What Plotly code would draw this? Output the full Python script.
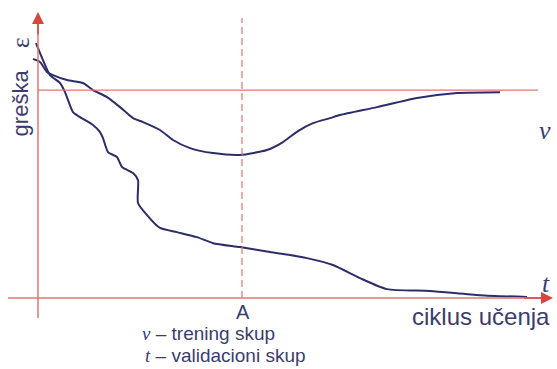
import plotly.graph_objects as go

# Learning cycles (x) and error (y) for the two curves
v_cycles = [-1.0, 0.4, 1.8, 3.0, 5.8, 9.0, 11.0, 13.8, 16.4, 19.0, 21.0, 24.4, 27.0,
            30.4, 35.0, 40.4, 45.8, 49.0, 52.0, 55.0, 58.4, 60.4, 67.8, 75.8, 83.8, 92.4]
v_error = [114.9, 113.5, 108.7, 107.2, 104.8, 103.4, 100.0, 96.6, 91.8, 86.5, 84.6, 80.8, 76.0,
           72.1, 69.7, 68.8, 71.2, 75.0, 80.3, 84.1, 86.5, 88.0, 91.8, 96.2, 98.6, 99.0]

t_cycles = [-0.4, 1.0, 2.4, 4.4, 5.4, 6.0, 7.0, 8.4, 11.0, 12.4, 13.0, 14.0, 15.8, 16.8,
            19.0, 20.0, 20.0, 21.8, 24.4, 27.8, 31.8, 35.0, 40.4, 46.4, 50.4, 53.8, 59.0,
            64.4, 69.8, 78.4, 88.4, 97.8]
t_error = [122.6, 114.4, 107.2, 103.4, 99.0, 95.2, 89.4, 87.0, 83.2, 79.8, 76.9, 70.2, 67.8, 63.0,
           60.1, 56.7, 45.7, 39.9, 33.7, 31.7, 29.3, 26.4, 24.5, 22.1, 20.7, 19.2, 15.9,
           9.6, 4.3, 3.4, 1.4, 0.5]

ref_level = 100.0      # error level of the horizontal reference line
stop_cycle = 40.8      # point A
ref_end = 100.0

RED = "#e3776e"
RED_DARK = "#d8473c"
INK = "#2c2e6a"
TXT = "#3a3d6e"

fig = go.Figure()

fig.add_trace(go.Scatter(x=v_cycles, y=v_error, mode="lines",
                         line=dict(color=INK, width=2, shape="spline", smoothing=0.6),
                         hoverinfo="skip", showlegend=False))
fig.add_trace(go.Scatter(x=t_cycles, y=t_error, mode="lines",
                         line=dict(color=INK, width=2, shape="spline", smoothing=0.6),
                         hoverinfo="skip", showlegend=False))

shapes = [
    # vertical axis
    dict(type="line", x0=0, x1=0, y0=-9.6, y1=132, line=dict(color=RED, width=1.5)),
    # horizontal axis
    dict(type="line", x0=-6, x1=101, y0=0, y1=0, line=dict(color=RED, width=1.5)),
    # reference error level
    dict(type="line", x0=0, x1=ref_end, y0=ref_level, y1=ref_level,
         line=dict(color=RED, width=1.2)),
    # stopping point A
    dict(type="line", x0=stop_cycle, x1=stop_cycle, y0=0, y1=134.6,
         line=dict(color=RED, width=1.2, dash="7px,4px")),
]

annotations = [
    # arrowheads of the axes
    dict(x=0, y=137.5, ax=0, ay=126, xref="x", yref="y", axref="x", ayref="y",
         showarrow=True, arrowhead=2, arrowsize=1.6, arrowwidth=1.5, arrowcolor=RED_DARK, text=""),
    dict(x=103, y=0, ax=97, ay=0, xref="x", yref="y", axref="x", ayref="y",
         showarrow=True, arrowhead=2, arrowsize=1.6, arrowwidth=1.5, arrowcolor=RED_DARK, text=""),
    dict(x=stop_cycle + 0.2, y=-6.5, text="A", showarrow=False,
         font=dict(family="Liberation Sans", size=20, color=TXT)),
    dict(x=74.4, y=-8.7, text="ciklus učenja", showarrow=False, xanchor="left",
         font=dict(family="Liberation Sans", size=24, color=TXT)),
    dict(x=-3.6, y=93.6, text="greška", showarrow=False, textangle=-90,
         xanchor="center", yanchor="middle",
         font=dict(family="Liberation Sans", size=22, color=TXT)),
    dict(x=-3.6, y=122.5, text="ε", showarrow=False, textangle=-90,
         xanchor="center", yanchor="middle",
         font=dict(family="Liberation Serif", size=26, color=TXT)),
    dict(x=101.4, y=80.8, text="<i>v</i>", showarrow=False,
         font=dict(family="Liberation Serif", size=26, color=TXT)),
    dict(x=101.6, y=7.2, text="<i>t</i>", showarrow=False,
         font=dict(family="Liberation Serif", size=26, color=TXT)),
    dict(x=20.4, y=-16.8, text="<i><span style='font-family:Liberation Serif'>v</span></i> – trening skup",
         showarrow=False, xanchor="left",
         font=dict(family="Liberation Sans", size=19, color=TXT)),
    dict(x=21.0, y=-27.6, text="<i><span style='font-family:Liberation Serif'>t</span></i> – validacioni skup",
         showarrow=False, xanchor="left",
         font=dict(family="Liberation Sans", size=19, color=TXT)),
]

fig.update_layout(
    width=557, height=369,
    margin=dict(l=0, r=0, t=0, b=0),
    paper_bgcolor="white", plot_bgcolor="white",
    xaxis=dict(range=[-7.6, 103.8], visible=False, fixedrange=True),
    yaxis=dict(range=[-34.1, 143.3], visible=False, fixedrange=True),
    shapes=shapes, annotations=annotations,
)

fig.write_html("out.html")
